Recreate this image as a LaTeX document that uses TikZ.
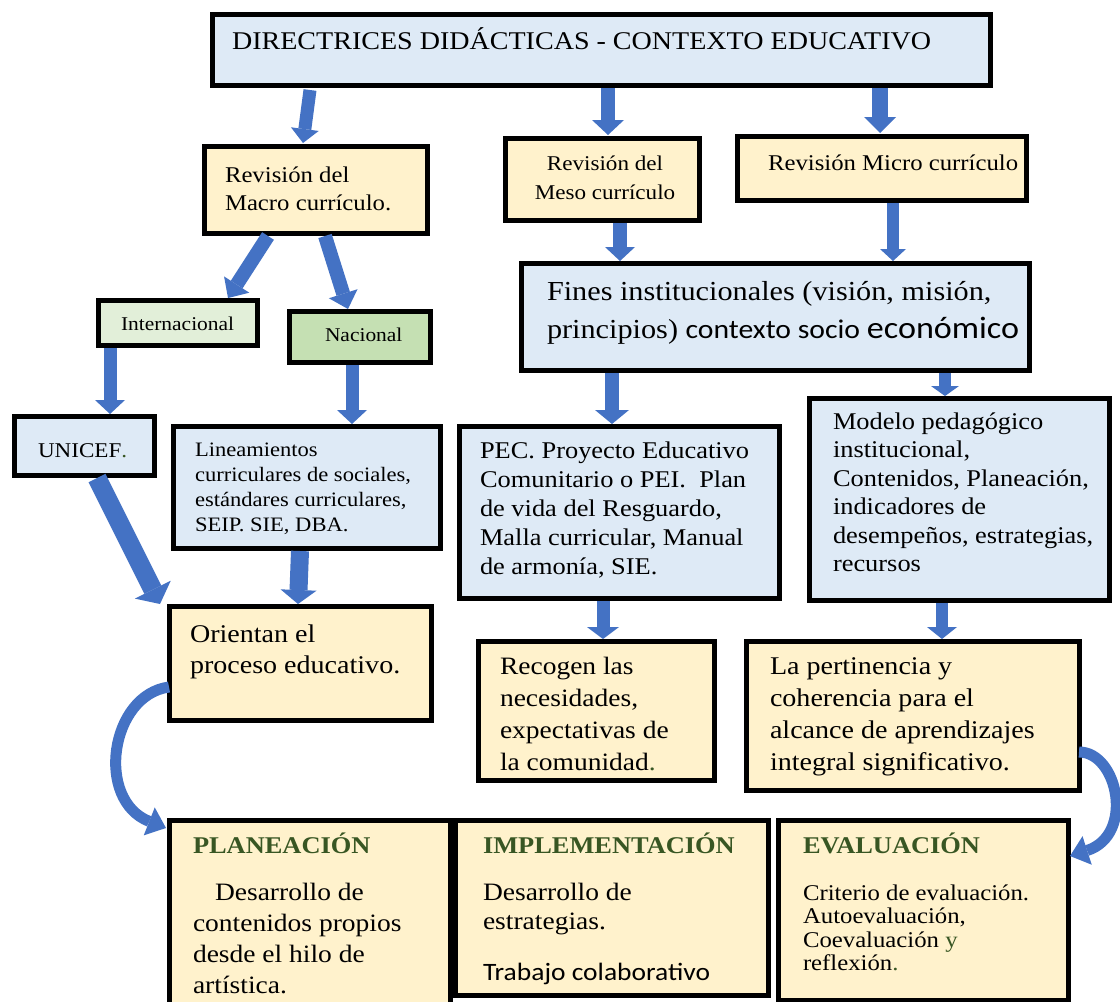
\documentclass[tikz,border=0pt]{standalone}
\usepackage{fontspec}
\setmainfont{Liberation Serif}[FakeStretch=1.1]
\newfontfamily\calibri{Carlito}[FakeStretch=1.1]
\usetikzlibrary{arrows.meta}
\definecolor{bxblue}{HTML}{DEEAF6}
\definecolor{bxyellow}{HTML}{FFF2CC}
\definecolor{bxlgreen}{HTML}{E2EFD9}
\definecolor{bxgreen}{HTML}{C5E0B3}
\definecolor{ttgreen}{HTML}{385623}
\definecolor{arrowblue}{HTML}{4472C4}
\newcommand\fsz[2]{\fontsize{#1}{#2}\selectfont}
\newcommand\st{\rule{0pt}{1em}}
\begin{document}
\begin{tikzpicture}[x=1pt,y=-1pt,
  box/.style={draw=black, line width=5pt, anchor=north west, inner sep=0pt, outer sep=0pt},
  txt/.style={anchor=north west, inner sep=0pt, outer sep=0pt, align=left},
  ttl/.style={txt, text=ttgreen, font=\fsz{24}{30}\bfseries},
  barrow/.style n args={3}{draw=arrowblue, line width=#1pt, -{Triangle[width=#2pt,length=#3pt,line width=0pt]}},
  curvarrow/.style={draw=arrowblue, line width=11pt, -{Triangle[width=30pt,length=18pt,line width=0pt]}}]
\useasboundingbox (0,0) rectangle (1120,1002);
\clip (0,0) rectangle (1120,1002);
\fill[white] (0,0) rectangle (1120,1002);

% boxes
\node[box, fill=bxblue, minimum width=778pt, minimum height=71pt] (title) at (212,14) {};
\node[box, fill=bxyellow, minimum width=223pt, minimum height=87pt] (macro) at (204,146) {};
\node[box, fill=bxyellow, minimum width=194pt, minimum height=82pt] (meso) at (505,138) {};
\node[box, fill=bxyellow, minimum width=289pt, minimum height=64pt] (micro) at (737,136) {};
\node[box, fill=bxlgreen, minimum width=159pt, minimum height=45pt] (intl) at (98,300) {};
\node[box, fill=bxgreen, minimum width=141pt, minimum height=51pt] (nac) at (289,311) {};
\node[box, fill=bxblue, minimum width=508pt, minimum height=107pt] (fines) at (521,263) {};
\node[box, fill=bxblue, minimum width=140pt, minimum height=59pt] (unicef) at (14,416) {};
\node[box, fill=bxblue, minimum width=267pt, minimum height=122pt] (linea) at (173,426) {};
\node[box, fill=bxblue, minimum width=320pt, minimum height=172pt] (pec) at (459,426) {};
\node[box, fill=bxblue, minimum width=300pt, minimum height=202pt] (modelo) at (809,398) {};
\node[box, fill=bxyellow, minimum width=262pt, minimum height=114pt] (orient) at (169,606) {};
\node[box, fill=bxyellow, minimum width=236pt, minimum height=139pt] (recog) at (478,641) {};
\node[box, fill=bxyellow, minimum width=333pt, minimum height=149pt] (pert) at (746,641) {};
\node[box, fill=bxyellow, minimum width=281pt, minimum height=190pt] (plan) at (169,820) {};
\node[box, fill=bxyellow, minimum width=313pt, minimum height=175pt] (impl) at (455,820) {};
\node[box, fill=bxyellow, minimum width=290pt, minimum height=180pt] (eval) at (778,820) {};

% texts
\node[txt, font=\fsz{25.5}{31}] (t-title) at (232,23.5) {\st DIRECTRICES DIDÁCTICAS - CONTEXTO EDUCATIVO};
\node[txt, font=\fsz{22.5}{28}] (t-macro) at (225,159.5) {\st Revisión del\\Macro currículo.};
\node[txt, anchor=north, align=center, font=\fsz{21}{29}] (t-meso) at (605,149) {\st Revisión del\\Meso currículo};
\node[txt, font=\fsz{22.5}{28}] (t-micro) at (768,147.5) {\st Revisión Micro currículo};
\node[txt, font=\fsz{19.5}{24}] (t-intl) at (121,310.5) {\st Internacional};
\node[txt, font=\fsz{19.5}{24}] (t-nac) at (325,321.5) {\st Nacional};
\node[txt, font=\fsz{21}{26}] (t-unicef) at (38,436) {\st UNICEF\textcolor{ttgreen}{.}};
\node[txt, font=\fsz{20.5}{25}] (t-linea) at (195,435.5) {\st Lineamientos\\curriculares de sociales,\\estándares curriculares,\\SEIP. SIE, DBA.};
\node[txt, font=\fsz{27.5}{38}] (t-fines) at (547,272.5) {\st Fines institucionales (visión, misión,\\principios) {\calibri\fontsize{27}{38}\selectfont contexto socio \fontsize{31}{38}\selectfont económico}};
\node[txt, font=\fsz{24}{29}] (t-pec) at (480,434) {\st PEC. Proyecto Educativo\\Comunitario o PEI.\ \ Plan\\de vida del Resguardo,\\Malla curricular, Manual\\de armonía, SIE.};
\node[txt, font=\fsz{24}{28.5}] (t-modelo) at (833,405) {\st Modelo pedagógico\\institucional,\\Contenidos, Planeación,\\indicadores de\\desempeños, estrategias,\\recursos};
\node[txt, font=\fsz{25.5}{31}] (t-orient) at (190,616.5) {\st Orientan el\\proceso educativo.};
\node[txt, font=\fsz{25}{32}] (t-recog) at (500,649) {\st Recogen las\\necesidades,\\expectativas de\\la comunidad\textcolor{ttgreen}{.}};
\node[txt, font=\fsz{25.5}{32}] (t-pert) at (770,648.5) {\st La pertinencia y\\coherencia para el\\alcance de aprendizajes\\integral significativo.};
\node[ttl] (t-plan) at (193,829) {\st PLANEACIÓN};
\node[txt, font=\fsz{25}{31}] (t-planb) at (193,875) {\st\hspace*{22pt}Desarrollo de\\contenidos propios\\desde el hilo de\\artística.};
\node[ttl] (t-impl) at (483,829) {\st IMPLEMENTACIÓN};
\node[txt, font=\fsz{25}{29}] (t-implb) at (483,875) {\st Desarrollo de\\estrategias.\\[22pt]{\calibri Trabajo colaborativo}};
\node[ttl] (t-eval) at (803,829) {\st EVALUACIÓN};
\node[txt, font=\fsz{22.5}{23.5}] (t-evalb) at (803,877.5) {\st Criterio de evaluación.\\Autoevaluación,\\Coevaluación \textcolor{ttgreen}{y}\\reflexión\textcolor{ttgreen}{.}};

% straight block arrows
\draw[barrow={13}{28}{14}] ([xshift=-291pt,yshift=-5pt]title.south) -- ([xshift=-12.5pt,yshift=3pt]macro.north);
\draw[barrow={14}{32}{15}] ([xshift=7pt,yshift=-3pt]title.south) -- ([xshift=6pt,yshift=3pt]meso.north);
\draw[barrow={16}{32}{16}] ([xshift=279pt,yshift=-3pt]title.south) -- ([xshift=-1.5pt,yshift=3pt]micro.north);
\draw[barrow={14}{30}{16}] ([xshift=-47.5pt,yshift=-3pt]macro.south) -- ([xshift=50.5pt,yshift=2pt]intl.north);
\draw[barrow={14}{30}{16}] ([xshift=9.5pt,yshift=-3pt]macro.south) -- ([xshift=-11.5pt,yshift=2pt]nac.north);
\draw[barrow={14}{30}{14}] ([xshift=18pt,yshift=-3pt]meso.south) -- ([xshift=-155pt,yshift=2pt]fines.north);
\draw[barrow={12}{26}{12}] ([xshift=11.5pt,yshift=-3pt]micro.south) -- ([xshift=118pt,yshift=2pt]fines.north);
\draw[barrow={13}{30}{14}] ([xshift=-67.5pt,yshift=-3pt]intl.south) -- ([xshift=26pt,yshift=2pt]unicef.north);
\draw[barrow={13}{30}{14}] ([xshift=-7.5pt,yshift=-3pt]nac.south) -- ([xshift=45.5pt,yshift=2pt]linea.north);
\draw[barrow={14}{34}{14}] ([xshift=-163pt,yshift=-3pt]fines.south) -- ([xshift=-7pt,yshift=2pt]pec.north);
\draw[barrow={12}{28}{10}] ([xshift=170pt,yshift=-3pt]fines.south) -- ([xshift=-14pt,yshift=2pt]modelo.north);
\draw[barrow={19}{40}{16}] ([xshift=13pt,yshift=-3pt]unicef.south) -- ([xshift=-140pt,yshift=2pt]orient.north);
\draw[barrow={18}{36}{14}] ([xshift=-6.5pt,yshift=-3pt]linea.south) -- ([xshift=-2pt,yshift=2pt]orient.north);
\draw[barrow={13}{32}{12}] ([xshift=-16pt,yshift=-3pt]pec.south) -- ([xshift=7pt,yshift=2pt]recog.north);
\draw[barrow={12}{30}{12}] ([xshift=-17pt,yshift=-3pt]modelo.south) -- ([xshift=29.5pt,yshift=2pt]pert.north);

% curved arrows
\draw[curvarrow] ([yshift=-24pt]orient.west) .. controls (110,695) and (95,800) .. ([xshift=-3pt,yshift=-8pt]plan.north west);
\draw[curvarrow] ([yshift=-36.5pt]pert.east) .. controls (1118,752) and (1135,835) .. ([xshift=2pt,yshift=54pt]eval.east);
\end{tikzpicture}
\end{document}
